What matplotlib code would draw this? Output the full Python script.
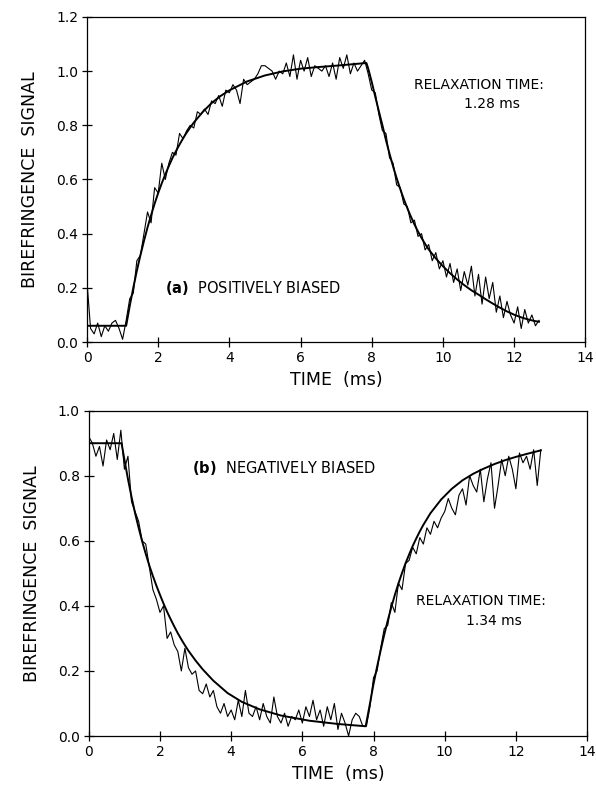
import numpy as np
import matplotlib
matplotlib.use("Agg")
import matplotlib.pyplot as plt

# sampling step of the measured traces (ms)
dt = 0.1

# (a) positively biased -- fitted curve
fit_a_t = [0, 1.1, 1.2, 1.3, 1.4, 1.5, 1.6, 1.7, 1.8, 1.9, 2.0, 2.1, 2.2, 2.3, 2.4, 2.5,
           2.6, 2.7, 2.8, 2.9, 3.0, 3.25, 3.5, 3.75, 4.0, 4.5, 5.0, 5.5, 6.0, 6.5, 7.0,
           7.85, 7.9, 8.0, 8.1, 8.2, 8.3, 8.4, 8.5, 8.6, 8.7, 8.8, 8.9, 9.0, 9.1, 9.2,
           9.3, 9.4, 9.5, 9.6, 9.7, 9.8, 9.9, 10.0, 10.2, 10.4, 10.6, 10.8, 11.0, 11.2,
           11.4, 11.6, 11.8, 12.0, 12.2, 12.4, 12.6, 12.7]
fit_a_v = [0.06, 0.06, 0.133, 0.20, 0.263, 0.32, 0.373, 0.423, 0.468, 0.511, 0.55, 0.586,
           0.619, 0.650, 0.679, 0.705, 0.729, 0.752, 0.773, 0.792, 0.81, 0.849, 0.882,
           0.908, 0.929, 0.962, 0.984, 0.999, 1.009, 1.015, 1.02, 1.03, 1.01, 0.96,
           0.905, 0.852, 0.80, 0.745, 0.695, 0.648, 0.605, 0.565, 0.528, 0.494, 0.463,
           0.434, 0.408, 0.384, 0.362, 0.342, 0.325, 0.309, 0.294, 0.28, 0.254, 0.231,
           0.21, 0.191, 0.175, 0.158, 0.142, 0.127, 0.113, 0.101, 0.091, 0.083, 0.077,
           0.075]

# (a) measured signal, one value every dt from t=0
sig_a = [0.22, 0.05, 0.03, 0.07, 0.02, 0.06, 0.04, 0.07, 0.08, 0.05, 0.01,
         0.08, 0.16, 0.18, 0.30, 0.32, 0.40, 0.48, 0.44, 0.57, 0.55,
         0.66, 0.60, 0.66, 0.70, 0.69, 0.77, 0.75, 0.78, 0.80, 0.79,
         0.85, 0.84, 0.86, 0.84, 0.89, 0.88, 0.91, 0.87, 0.93, 0.92,
         0.95, 0.93, 0.88, 0.97, 0.95, 0.96, 0.97, 0.99, 1.02, 1.02,
         1.01, 1.00, 0.97, 1.00, 0.99, 1.03, 0.98, 1.06, 0.97, 1.04,
         1.00, 1.05, 0.98, 1.02, 1.01, 1.00, 1.02, 0.98, 1.03, 0.97,
         1.05, 1.01, 1.06, 0.99, 1.03, 1.00, 1.02, 1.04, 0.99, 0.93,
         0.92, 0.84, 0.78, 0.77, 0.68, 0.66, 0.58, 0.57, 0.51, 0.50,
         0.44, 0.45, 0.39, 0.40, 0.34, 0.36, 0.30, 0.33, 0.27, 0.30,
         0.24, 0.29, 0.22, 0.27, 0.19, 0.26, 0.21, 0.28, 0.17, 0.25,
         0.14, 0.24, 0.16, 0.22, 0.11, 0.17, 0.09, 0.15, 0.10, 0.07,
         0.13, 0.05, 0.12, 0.07, 0.10, 0.06, 0.08]

# (b) negatively biased -- fitted curve
fit_b_t = [0, 0.92, 1.0, 1.1, 1.2, 1.3, 1.4, 1.5, 1.6, 1.7, 1.8, 1.9, 2.0, 2.1, 2.2, 2.3,
           2.4, 2.5, 2.6, 2.7, 2.8, 2.9, 3.0, 3.2, 3.5, 3.9, 4.3, 4.8, 5.4, 6.2, 7.0,
           7.78, 7.9, 8.0, 8.1, 8.2, 8.3, 8.4, 8.5, 8.6, 8.7, 8.8, 8.9, 9.0, 9.1, 9.2,
           9.3, 9.4, 9.6, 9.9, 10.2, 10.5, 10.8, 11.1, 11.4, 11.7, 12.0, 12.3, 12.7]
fit_b_v = [0.90, 0.90, 0.85, 0.79, 0.735, 0.685, 0.640, 0.598, 0.560, 0.524, 0.492, 0.462,
           0.434, 0.407, 0.382, 0.359, 0.337, 0.316, 0.297, 0.279, 0.262, 0.247, 0.232,
           0.205, 0.170, 0.132, 0.105, 0.082, 0.063, 0.047, 0.037, 0.03, 0.10, 0.16,
           0.213, 0.263, 0.311, 0.355, 0.396, 0.434, 0.469, 0.501, 0.531, 0.558, 0.584,
           0.607, 0.629, 0.649, 0.685, 0.727, 0.760, 0.786, 0.806, 0.822, 0.836, 0.848,
           0.858, 0.867, 0.878]

# (b) measured signal, one value every dt from t=0
sig_b = [0.92, 0.90, 0.86, 0.89, 0.83, 0.91, 0.88, 0.93, 0.85, 0.94, 0.82,
         0.86, 0.72, 0.69, 0.66, 0.60, 0.59, 0.52, 0.45, 0.42, 0.38,
         0.40, 0.30, 0.32, 0.28, 0.26, 0.20, 0.27, 0.21, 0.19, 0.20,
         0.14, 0.13, 0.16, 0.12, 0.14, 0.09, 0.07, 0.10, 0.06, 0.08,
         0.05, 0.11, 0.06, 0.14, 0.07, 0.06, 0.09, 0.05, 0.10, 0.06,
         0.04, 0.12, 0.06, 0.04, 0.07, 0.03, 0.06, 0.05, 0.08, 0.04,
         0.09, 0.06, 0.11, 0.05, 0.08, 0.03, 0.09, 0.05, 0.10, 0.02,
         0.07, 0.04, 0.00, 0.05, 0.07, 0.06, 0.03, 0.03, 0.09, 0.18,
         0.20, 0.27, 0.33, 0.34, 0.41, 0.38, 0.47, 0.45, 0.53, 0.54,
         0.58, 0.56, 0.61, 0.59, 0.64, 0.62, 0.66, 0.64, 0.67, 0.69,
         0.73, 0.70, 0.68, 0.74, 0.76, 0.71, 0.80, 0.77, 0.75, 0.82,
         0.72, 0.79, 0.84, 0.70, 0.77, 0.85, 0.80, 0.86, 0.82, 0.76,
         0.87, 0.84, 0.86, 0.82, 0.88, 0.77, 0.88]

x_ticks = [0, 2, 4, 6, 8, 10, 12, 14]
y_ticks_a = [0.0, 0.2, 0.4, 0.6, 0.8, 1.0, 1.2]
y_ticks_b = [0.0, 0.2, 0.4, 0.6, 0.8, 1.0]

plt.rcParams['font.family'] = ['DejaVu Sans']

fig = plt.figure(figsize=(5.96, 7.91), dpi=100)
ax1 = fig.add_axes([0.146, 0.5676, 0.836, 0.411])
ax2 = fig.add_axes([0.149, 0.0695, 0.836, 0.4113])


def style(ax, yticks):
    ax.set_xlim(0, 14)
    ax.set_ylim(yticks[0], yticks[-1])
    ax.set_xticks(x_ticks)
    ax.set_yticks(yticks)
    ax.set_xticklabels([str(v) for v in x_ticks])
    ax.set_yticklabels(['%.1f' % v for v in yticks])
    ax.tick_params(direction='inout', length=7, width=0.9, labelsize=10, pad=3)
    for s in ax.spines.values():
        s.set_linewidth(0.9)
    ax.set_xlabel('TIME  (ms)', fontsize=12.5, labelpad=4)
    ax.set_ylabel('BIREFRINGENCE  SIGNAL', fontsize=12.5, labelpad=12)


for ax, ft, fv, sig, yt in [(ax1, fit_a_t, fit_a_v, sig_a, y_ticks_a),
                            (ax2, fit_b_t, fit_b_v, sig_b, y_ticks_b)]:
    t = np.arange(len(sig)) * dt
    ax.plot(t, sig, color='black', lw=0.8)
    ax.plot(ft, fv, color='black', lw=1.4)
    style(ax, yt)

ax1.text(2.2, 0.2, r'$\mathbf{(a)}$  POSITIVELY BIASED', fontsize=10.5, va='center')
ax1.text(9.2, 0.95, 'RELAXATION TIME:', fontsize=10, va='center')
ax1.text(10.6, 0.88, '1.28 ms', fontsize=10, va='center')

ax2.text(2.9, 0.825, r'$\mathbf{(b)}$  NEGATIVELY BIASED', fontsize=10.5, va='center')
ax2.text(9.2, 0.415, 'RELAXATION TIME:', fontsize=10, va='center')
ax2.text(10.6, 0.355, '1.34 ms', fontsize=10, va='center')

fig.savefig('out.png', dpi=100)
